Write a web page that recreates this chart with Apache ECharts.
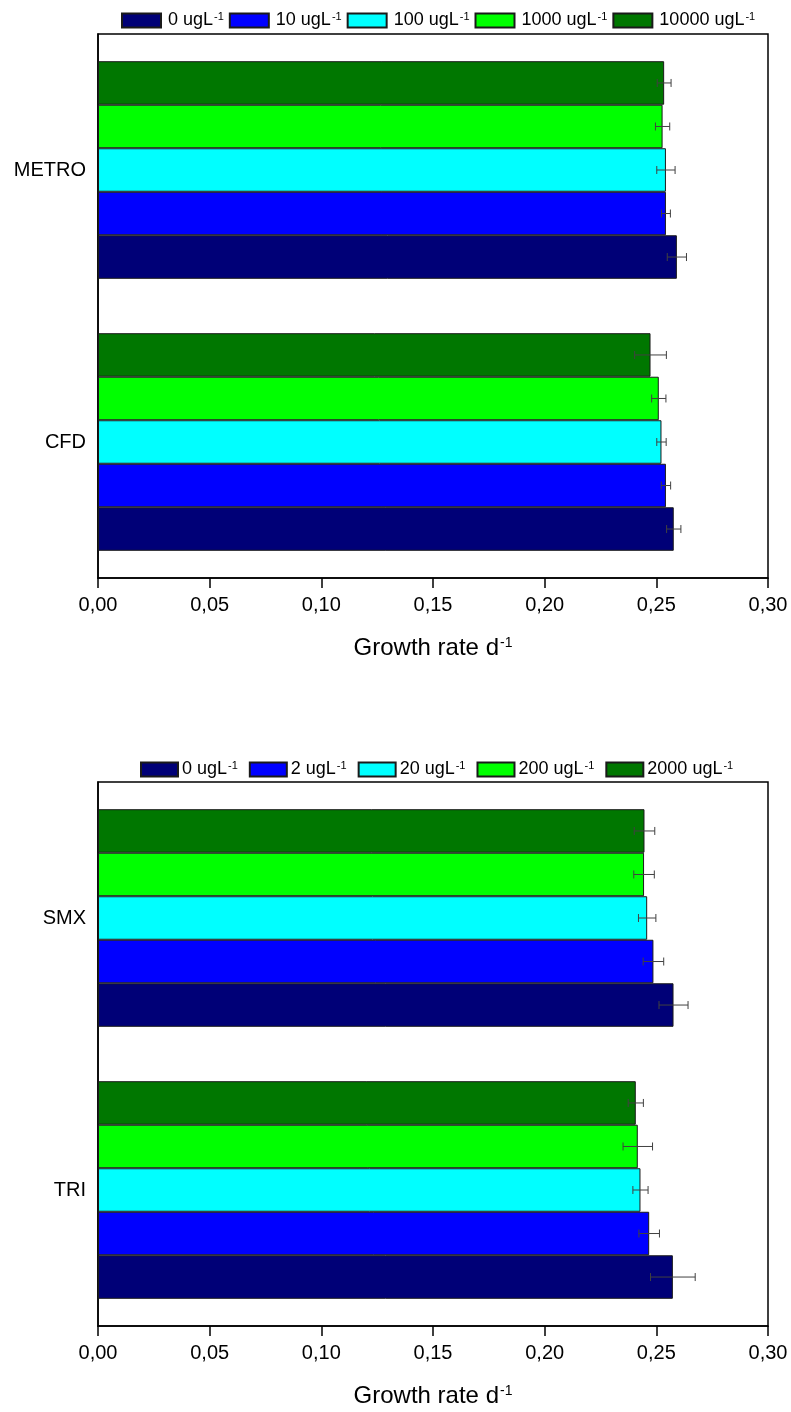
<!DOCTYPE html>
<html>
<head>
<meta charset="utf-8">
<script src="https://cdn.jsdelivr.net/npm/echarts@6/dist/echarts.min.js"></script>
<style>
  html, body { margin: 0; padding: 0; background: #fff; }
  #chart { width: 791px; height: 1412px; }
</style>
</head>
<body>
<div id="chart"></div>
<script>
// Growth rate per compound and concentration (mean ± error)
const catsTop = ['CFD', 'METRO'];            // bottom → top
const levelsTop = ['0', '10', '100', '1000', '10000'];
const valuesTop = {
  '0':     [0.2578, 0.2592],
  '10':    [0.2543, 0.2543],
  '100':   [0.2523, 0.2543],
  '1000':  [0.2511, 0.2528],
  '10000': [0.2474, 0.2535]
};
const errTop = {
  '0':     [0.0032, 0.0043],
  '10':    [0.0021, 0.0020],
  '100':   [0.0021, 0.0041],
  '1000':  [0.0032, 0.0032],
  '10000': [0.0071, 0.0031]
};

const catsBot = ['TRI', 'SMX'];
const levelsBot = ['0', '2', '20', '200', '2000'];
const valuesBot = {
  '0':    [0.2574, 0.2577],
  '2':    [0.2468, 0.2487],
  '20':   [0.2429, 0.2459],
  '200':  [0.2417, 0.2445],
  '2000': [0.2408, 0.2447]
};
const errBot = {
  '0':    [0.0100, 0.0065],
  '2':    [0.0046, 0.0046],
  '20':   [0.0034, 0.0039],
  '200':  [0.0066, 0.0046],
  '2000': [0.0034, 0.0046]
};

const xTicks = [0, 0.05, 0.10, 0.15, 0.20, 0.25, 0.30];
const levelColors = ['#000077', '#0000FF', '#00FFFF', '#00FF00', '#007700'];

const FONT = "'Liberation Sans', Arial, sans-serif";
const GAP = 0.20;   // category gap fraction
const N = 5;

const supRich = {
  t: { fontFamily: FONT, fontSize: 18, color: '#000' },
  s: { fontFamily: FONT, fontSize: 11, color: '#000', verticalAlign: 'top', padding: [0, 0, 8, 1] }
};
const nameRich = {
  t: { fontFamily: FONT, fontSize: 24, color: '#000' },
  s: { fontFamily: FONT, fontSize: 14, color: '#000', verticalAlign: 'top', padding: [0, 0, 11, 1] }
};

function seriesName(lv) { return lv + ' ugL'; }

function buildSeries(levels, values, errs, axisIdx) {
  const out = [];
  // drawing order top → bottom inside each group: highest concentration first
  const order = levels.slice().reverse();
  order.forEach((lv) => {
    const color = levelColors[levels.indexOf(lv)];
    out.push({
      type: 'bar',
      name: seriesName(lv),
      xAxisIndex: axisIdx, yAxisIndex: axisIdx,
      data: values[lv],
      barGap: '0%',
      barCategoryGap: (GAP * 100) + '%',
      itemStyle: { color: color, borderColor: '#1a1a1a', borderWidth: 1 },
      emphasis: { disabled: true },
      z: 2
    });
  });
  order.forEach((lv, k) => {
    const data = values[lv].map((v, i) => [v, i, errs[lv][i]]);
    out.push({
      type: 'custom',
      name: 'err-' + lv + '-' + axisIdx,
      xAxisIndex: axisIdx, yAxisIndex: axisIdx,
      data: data,
      encode: { x: 0, y: 1 },
      z: 5,
      silent: true,
      renderItem: function (params, api) {
        const v = api.value(0), c = api.value(1), e = api.value(2);
        const p = api.coord([v, c]);
        const bandH = api.size([0, 1])[1];
        const barW = bandH * (1 - GAP) / N;
        const cy = p[1] - bandH * (1 - GAP) / 2 + k * barW + barW / 2;
        const x1 = api.coord([v - e, c])[0];
        const x2 = api.coord([v + e, c])[0];
        const cap = 4;
        const st = { stroke: '#404040', lineWidth: 1 };
        return {
          type: 'group',
          children: [
            { type: 'line', shape: { x1: x1, y1: cy, x2: x2, y2: cy }, style: st },
            { type: 'line', shape: { x1: x1, y1: cy - cap, x2: x1, y2: cy + cap }, style: st },
            { type: 'line', shape: { x1: x2, y1: cy - cap, x2: x2, y2: cy + cap }, style: st }
          ]
        };
      }
    });
  });
  return out;
}

function xAxisDef(gridIdx) {
  return {
    type: 'value', gridIndex: gridIdx,
    min: xTicks[0], max: xTicks[xTicks.length - 1], interval: 0.05,
    name: '{t|Growth rate d}{s|-1}',
    nameLocation: 'middle', nameGap: 58,
    nameTextStyle: { rich: nameRich },
    axisLine: { show: true, lineStyle: { color: '#000', width: 1.5 } },
    axisTick: { show: true, length: 10, lineStyle: { color: '#000', width: 1.5 } },
    axisLabel: {
      fontFamily: FONT, fontSize: 20, color: '#000', margin: 17,
      formatter: v => v.toFixed(2).replace('.', ',')
    },
    splitLine: { show: false }
  };
}

function yAxisDef(gridIdx, cats) {
  return {
    type: 'category', gridIndex: gridIdx, data: cats,
    axisLine: { show: true, lineStyle: { color: '#000', width: 1.5 } },
    axisTick: { show: false },
    axisLabel: { fontFamily: FONT, fontSize: 20, color: '#000', margin: 12 },
    splitLine: { show: false }
  };
}

function legendDef(levels, left, top, boxW, gap, textPad) {
  return {
    data: levels.map(seriesName),
    left: left, top: top,
    padding: 0,
    itemWidth: boxW, itemHeight: 14, itemGap: gap,
    icon: 'rect',
    selectedMode: false,
    textStyle: { rich: supRich, padding: [0, 0, 0, textPad] },
    formatter: name => '{t|' + name + '}{s|-1}'
  };
}

const chart = echarts.init(document.getElementById('chart'), null, { renderer: 'canvas' });
chart.setOption({
  backgroundColor: '#fff',
  animation: false,
  legend: [
    legendDef(levelsTop, 121, 11, 39, 5, 2),
    legendDef(levelsBot, 140, 760, 37, 11, -1)
  ],
  grid: [
    { left: 98, right: 23, top: 34, height: 544, show: true, borderColor: '#000', borderWidth: 1.5, backgroundColor: 'transparent' },
    { left: 98, right: 23, top: 782, height: 544, show: true, borderColor: '#000', borderWidth: 1.5, backgroundColor: 'transparent' }
  ],
  xAxis: [xAxisDef(0), xAxisDef(1)],
  yAxis: [yAxisDef(0, catsTop), yAxisDef(1, catsBot)],
  series: [].concat(
    buildSeries(levelsTop, valuesTop, errTop, 0),
    buildSeries(levelsBot, valuesBot, errBot, 1)
  )
});
</script>
</body>
</html>
